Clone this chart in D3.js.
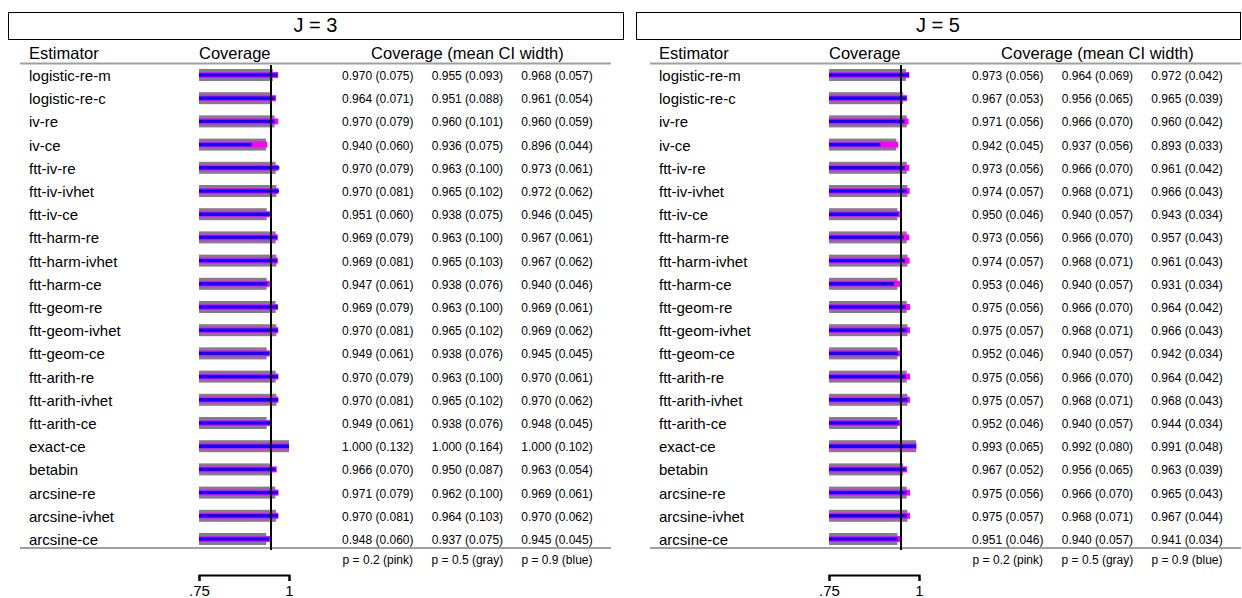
<!DOCTYPE html>
<html>
<head>
<meta charset="utf-8">
<script src="https://cdn.jsdelivr.net/npm/d3@7"></script>
<style>
  html, body { margin: 0; padding: 0; background: #fff; }
  svg { display: block; font-family: "Liberation Sans", Arial, sans-serif; }
</style>
</head>
<body>
<svg id="chart" width="1242" height="598"></svg>
<script>
// Estimators, one row each
const estimators = [
  "logistic-re-m", "logistic-re-c", "iv-re", "iv-ce", "ftt-iv-re", "ftt-iv-ivhet",
  "ftt-iv-ce", "ftt-harm-re", "ftt-harm-ivhet", "ftt-harm-ce", "ftt-geom-re",
  "ftt-geom-ivhet", "ftt-geom-ce", "ftt-arith-re", "ftt-arith-ivhet", "ftt-arith-ce",
  "exact-ce", "betabin", "arcsine-re", "arcsine-ivhet", "arcsine-ce"
];

// Column order in every row: p = 0.2, p = 0.5, p = 0.9
const j3Coverage = [
  [0.970, 0.955, 0.968], [0.964, 0.951, 0.961], [0.970, 0.960, 0.960], [0.940, 0.936, 0.896],
  [0.970, 0.963, 0.973], [0.970, 0.965, 0.972], [0.951, 0.938, 0.946], [0.969, 0.963, 0.967],
  [0.969, 0.965, 0.967], [0.947, 0.938, 0.940], [0.969, 0.963, 0.969], [0.970, 0.965, 0.969],
  [0.949, 0.938, 0.945], [0.970, 0.963, 0.970], [0.970, 0.965, 0.970], [0.949, 0.938, 0.948],
  [1.000, 1.000, 1.000], [0.966, 0.950, 0.963], [0.971, 0.962, 0.969], [0.970, 0.964, 0.970],
  [0.948, 0.937, 0.945]
];
const j3Width = [
  [0.075, 0.093, 0.057], [0.071, 0.088, 0.054], [0.079, 0.101, 0.059], [0.060, 0.075, 0.044],
  [0.079, 0.100, 0.061], [0.081, 0.102, 0.062], [0.060, 0.075, 0.045], [0.079, 0.100, 0.061],
  [0.081, 0.103, 0.062], [0.061, 0.076, 0.046], [0.079, 0.100, 0.061], [0.081, 0.102, 0.062],
  [0.061, 0.076, 0.045], [0.079, 0.100, 0.061], [0.081, 0.102, 0.062], [0.061, 0.076, 0.045],
  [0.132, 0.164, 0.102], [0.070, 0.087, 0.054], [0.079, 0.100, 0.061], [0.081, 0.103, 0.062],
  [0.060, 0.075, 0.045]
];
const j5Coverage = [
  [0.973, 0.964, 0.972], [0.967, 0.956, 0.965], [0.971, 0.966, 0.960], [0.942, 0.937, 0.893],
  [0.973, 0.966, 0.961], [0.974, 0.968, 0.966], [0.950, 0.940, 0.943], [0.973, 0.966, 0.957],
  [0.974, 0.968, 0.961], [0.953, 0.940, 0.931], [0.975, 0.966, 0.964], [0.975, 0.968, 0.966],
  [0.952, 0.940, 0.942], [0.975, 0.966, 0.964], [0.975, 0.968, 0.968], [0.952, 0.940, 0.944],
  [0.993, 0.992, 0.991], [0.967, 0.956, 0.963], [0.975, 0.966, 0.965], [0.975, 0.968, 0.967],
  [0.951, 0.940, 0.941]
];
const j5Width = [
  [0.056, 0.069, 0.042], [0.053, 0.065, 0.039], [0.056, 0.070, 0.042], [0.045, 0.056, 0.033],
  [0.056, 0.070, 0.042], [0.057, 0.071, 0.043], [0.046, 0.057, 0.034], [0.056, 0.070, 0.043],
  [0.057, 0.071, 0.043], [0.046, 0.057, 0.034], [0.056, 0.070, 0.042], [0.057, 0.071, 0.043],
  [0.046, 0.057, 0.034], [0.056, 0.070, 0.042], [0.057, 0.071, 0.043], [0.046, 0.057, 0.034],
  [0.065, 0.080, 0.048], [0.052, 0.065, 0.039], [0.056, 0.070, 0.043], [0.057, 0.071, 0.044],
  [0.046, 0.057, 0.034]
];

const legendLabels = ["p = 0.2 (pink)", "p = 0.5 (gray)", "p = 0.9 (blue)"];
const tickValues = [0.75, 1];
const tickLabels = [".75", "1"];
const refLine = 0.95;

const panels = [
  { title: "J = 3", cov: j3Coverage, wid: j3Width, dx: 0, box: [8, 623] },
  { title: "J = 5", cov: j5Coverage, wid: j5Width, dx: 630, box: [636, 1240] },
];

// bars drawn back to front: gray (p=.5) thick, pink (p=.2), blue (p=.9) thin
const barLayers = [
  { col: 1, color: "#808080", h: 12 },
  { col: 0, color: "#ff00ff", h: 6 },
  { col: 2, color: "#0000ff", h: 3.4 },
];

const svg = d3.select("#chart");
const y = d3.scalePoint().domain(d3.range(estimators.length)).range([75, 539]);
const colX = d3.scalePoint().domain([0, 1, 2]).range([377.8, 557]);
const fmt = d3.format(".3f");

panels.forEach(p => {
  const g = svg.append("g").attr("transform", `translate(${p.dx},0)`);
  const x = d3.scaleLinear().domain([0.75, 1]).range([199, 289]);

  // title strip
  svg.append("rect")
    .attr("x", p.box[0] + 0.5).attr("y", 12.5)
    .attr("width", p.box[1] - p.box[0]).attr("height", 27)
    .attr("fill", "#fff").attr("stroke", "#000").attr("stroke-width", 1);
  svg.append("text")
    .attr("x", (p.box[0] + p.box[1]) / 2).attr("y", 32)
    .attr("text-anchor", "middle").attr("font-size", 20)
    .text(p.title);

  // column headers
  const hdr = g.append("g").attr("font-size", 16.5).attr("fill", "#000");
  hdr.append("text").attr("x", 29).attr("y", 58.5).text("Estimator");
  hdr.append("text").attr("x", 199).attr("y", 58.5).text("Coverage");
  hdr.append("text").attr("x", colX(1)).attr("y", 58.5).attr("text-anchor", "middle")
    .text("Coverage (mean CI width)");

  // rules
  [63.5, 548].forEach(ry => g.append("line")
    .attr("x1", 20).attr("x2", 611).attr("y1", ry).attr("y2", ry)
    .attr("stroke", "#a0a0a0").attr("stroke-width", 2));

  // estimator labels
  g.append("g").selectAll("text").data(estimators).join("text")
    .attr("x", 29).attr("y", (d, i) => y(i) + 6)
    .attr("font-size", 15).text(d => d);

  // bars
  barLayers.forEach(L => {
    g.append("g").selectAll("rect").data(p.cov).join("rect")
      .attr("x", x(0.75))
      .attr("y", (d, i) => y(i) - L.h / 2)
      .attr("width", d => x(d[L.col]) - x(0.75))
      .attr("height", L.h)
      .attr("fill", L.color);
  });

  // reference line at .95
  g.append("line")
    .attr("x1", x(refLine)).attr("x2", x(refLine))
    .attr("y1", 65).attr("y2", 550)
    .attr("stroke", "#000").attr("stroke-width", 2);

  // numbers table
  const cells = [];
  p.cov.forEach((row, i) => row.forEach((c, j) =>
    cells.push({ i, j, t: `${fmt(c)} (${fmt(p.wid[i][j])})` })));
  g.append("g").selectAll("text").data(cells).join("text")
    .attr("x", d => colX(d.j)).attr("y", d => y(d.i) + 5)
    .attr("text-anchor", "middle").attr("font-size", 12)
    .text(d => d.t);

  // legend row
  g.append("g").selectAll("text").data(legendLabels).join("text")
    .attr("x", (d, j) => colX(j)).attr("y", 564)
    .attr("text-anchor", "middle").attr("font-size", 12)
    .text(d => d);

  // bracket axis
  const ax = g.append("g").attr("transform", "translate(0,575)")
    .call(d3.axisBottom(x).tickValues(tickValues)
      .tickFormat((d, i) => tickLabels[i])
      .tickSize(6).tickSizeOuter(6).tickPadding(4));
  ax.select(".domain").attr("stroke", "#000").attr("stroke-width", 2);
  ax.selectAll(".tick line").attr("stroke", "#000").attr("stroke-width", 2);
  ax.selectAll(".tick text").attr("font-size", 15)
    .attr("font-family", "Liberation Sans, Arial, sans-serif").attr("fill", "#000");
});
</script>
</body>
</html>
